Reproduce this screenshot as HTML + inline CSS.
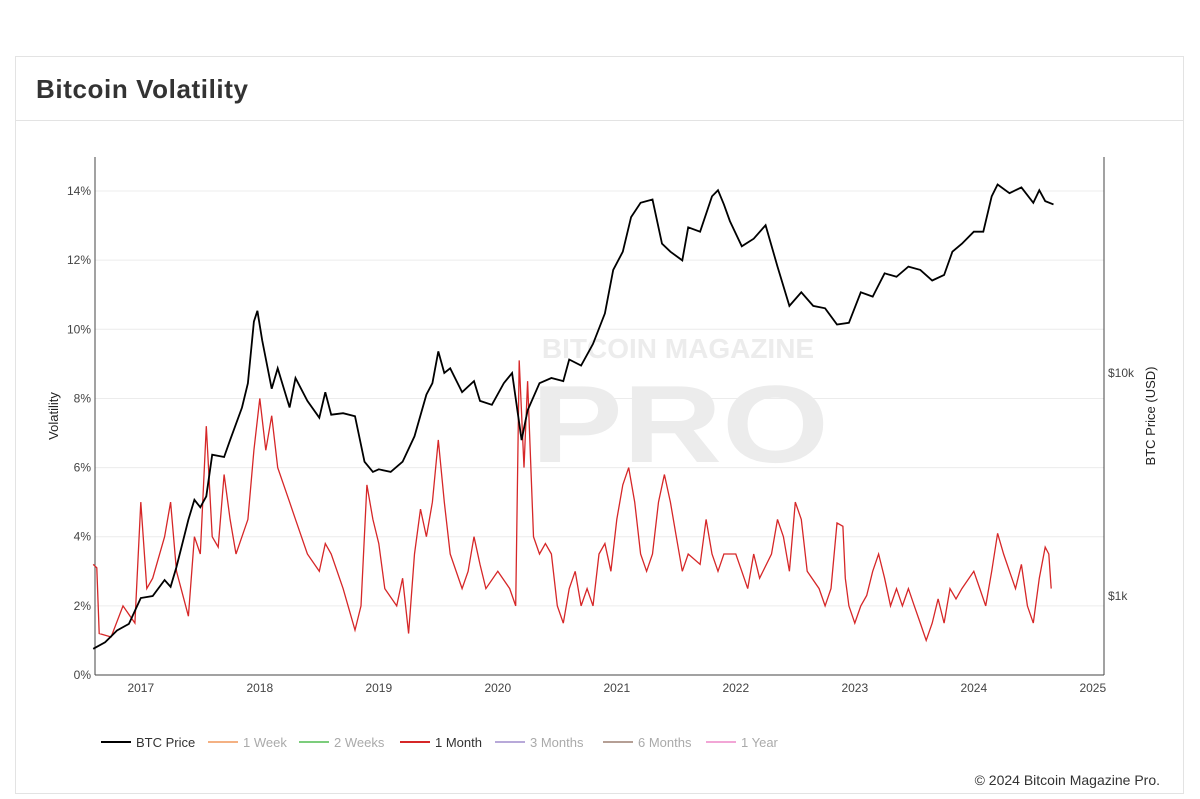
<!DOCTYPE html>
<html><head><meta charset="utf-8"><style>
body{margin:0;background:#fff;width:1200px;height:799px;overflow:hidden;font-family:"Liberation Sans",sans-serif;}
.card{position:absolute;left:15px;top:56px;width:1169px;height:738px;border:1px solid #e3e3e3;box-sizing:border-box;}
.title{position:absolute;left:36px;top:74px;font-size:26px;font-weight:bold;color:#333;letter-spacing:0.6px;}
.sep{position:absolute;left:16px;top:120px;width:1168px;height:1px;background:#e3e3e3;}
</style></head><body>
<div class="card"></div>
<div class="title">Bitcoin Volatility</div>
<div class="sep"></div>
<svg id="chart" width="1200" height="799" style="position:absolute;left:0;top:0"></svg>
<script>
const volT=[2016.6,2016.63,2016.65,2016.75,2016.85,2016.95,2017.0,2017.05,2017.1,2017.2,2017.25,2017.3,2017.4,2017.45,2017.5,2017.55,2017.6,2017.65,2017.7,2017.75,2017.8,2017.9,2017.95,2018.0,2018.05,2018.1,2018.15,2018.25,2018.3,2018.4,2018.5,2018.55,2018.6,2018.7,2018.8,2018.85,2018.9,2018.95,2019.0,2019.05,2019.15,2019.2,2019.25,2019.3,2019.35,2019.4,2019.45,2019.5,2019.55,2019.6,2019.7,2019.75,2019.8,2019.85,2019.9,2020.0,2020.1,2020.15,2020.18,2020.22,2020.25,2020.3,2020.35,2020.4,2020.45,2020.5,2020.55,2020.6,2020.65,2020.7,2020.75,2020.8,2020.85,2020.9,2020.95,2021.0,2021.05,2021.1,2021.15,2021.2,2021.25,2021.3,2021.35,2021.4,2021.45,2021.5,2021.55,2021.6,2021.7,2021.75,2021.8,2021.85,2021.9,2022.0,2022.05,2022.1,2022.15,2022.2,2022.3,2022.35,2022.4,2022.45,2022.5,2022.55,2022.6,2022.7,2022.75,2022.8,2022.85,2022.9,2022.92,2022.95,2023.0,2023.05,2023.1,2023.15,2023.2,2023.25,2023.3,2023.35,2023.4,2023.45,2023.5,2023.55,2023.6,2023.65,2023.7,2023.75,2023.8,2023.85,2023.9,2024.0,2024.05,2024.1,2024.15,2024.2,2024.25,2024.3,2024.35,2024.4,2024.45,2024.5,2024.55,2024.6,2024.63,2024.65];
const volV=[3.2,3.1,1.2,1.1,2.0,1.5,5.0,2.5,2.8,4.0,5.0,3.0,1.7,4.0,3.5,7.2,4.0,3.7,5.8,4.5,3.5,4.5,6.5,8.0,6.5,7.5,6.0,5.0,4.5,3.5,3.0,3.8,3.5,2.5,1.3,2.0,5.5,4.5,3.8,2.5,2.0,2.8,1.2,3.5,4.8,4.0,5.0,6.8,5.0,3.5,2.5,3.0,4.0,3.2,2.5,3.0,2.5,2.0,9.1,6.0,8.5,4.0,3.5,3.8,3.5,2.0,1.5,2.5,3.0,2.0,2.5,2.0,3.5,3.8,3.0,4.5,5.5,6.0,5.0,3.5,3.0,3.5,5.0,5.8,5.0,4.0,3.0,3.5,3.2,4.5,3.5,3.0,3.5,3.5,3.0,2.5,3.5,2.8,3.5,4.5,4.0,3.0,5.0,4.5,3.0,2.5,2.0,2.5,4.4,4.3,2.8,2.0,1.5,2.0,2.3,3.0,3.5,2.8,2.0,2.5,2.0,2.5,2.0,1.5,1.0,1.5,2.2,1.5,2.5,2.2,2.5,3.0,2.5,2.0,3.0,4.1,3.5,3.0,2.5,3.2,2.0,1.5,2.8,3.7,3.5,2.5];
const priceT=[2016.6,2016.7,2016.8,2016.9,2017.0,2017.1,2017.2,2017.25,2017.3,2017.4,2017.45,2017.5,2017.55,2017.6,2017.7,2017.75,2017.85,2017.9,2017.95,2017.98,2018.02,2018.1,2018.15,2018.25,2018.3,2018.4,2018.5,2018.55,2018.6,2018.7,2018.8,2018.88,2018.95,2019.0,2019.1,2019.2,2019.3,2019.4,2019.45,2019.5,2019.55,2019.6,2019.7,2019.8,2019.85,2019.95,2020.05,2020.12,2020.2,2020.25,2020.35,2020.45,2020.55,2020.6,2020.7,2020.8,2020.9,2020.97,2021.05,2021.12,2021.2,2021.3,2021.38,2021.45,2021.55,2021.6,2021.7,2021.8,2021.85,2021.9,2021.95,2022.05,2022.15,2022.25,2022.35,2022.45,2022.55,2022.65,2022.75,2022.85,2022.95,2023.05,2023.15,2023.25,2023.35,2023.45,2023.55,2023.65,2023.75,2023.82,2023.9,2024.0,2024.08,2024.15,2024.2,2024.3,2024.4,2024.5,2024.55,2024.6,2024.67];
const priceV=[580,620,700,750,980,1000,1180,1100,1350,2200,2700,2500,2800,4300,4200,5000,7000,9000,17000,19000,14000,8500,10500,7000,9500,7500,6300,8200,6500,6600,6400,4000,3600,3700,3600,4000,5200,8000,9000,12500,10000,10500,8200,9200,7500,7200,9000,10000,5000,6800,9000,9500,9200,11500,10800,13500,18500,29000,35000,50000,58000,60000,38000,35000,32000,45000,43000,62000,66000,57000,48000,37000,40000,46000,30000,20000,23000,20000,19500,16500,16800,23000,22000,28000,27000,30000,29000,26000,27500,35000,38000,43000,43000,62000,70000,64000,68000,58000,66000,59000,57000];
const volTicks=[0,2,4,6,8,10,12,14];
const yearTicks=[2017,2018,2019,2020,2021,2022,2023,2024,2025];
const priceTicks=[1000,10000];
const priceTickLabels=["$1k","$10k"];
const legendNames=["BTC Price","1 Week","2 Weeks","1 Month","3 Months","6 Months","1 Year"];
const legendColors=["#000","#f4b183","#7ccd7c","#d62728","#b8a9d9","#b59f95","#f2a6d6"];

const NS="http://www.w3.org/2000/svg",svg=document.getElementById('chart');
const X0=95,X1=1104,Y0=675,YT=157;
const x=t=>95+(t-2016.615)*119;
const yv=v=>675-v*34.57;
const yp=p=>596-223*Math.log10(p/1000);
function el(tag,a,txt){const e=document.createElementNS(NS,tag);for(const k in a)e.setAttribute(k,a[k]);if(txt!=null)e.textContent=txt;svg.appendChild(e);return e;}
let w=el('text',{x:678,y:358,'font-size':28,'font-weight':'bold','text-anchor':'middle',fill:'#ececec'},'BITCOIN MAGAZINE');

w=el('text',{x:0,y:0,'font-size':110,'font-weight':'bold','text-anchor':'middle',fill:'#ececec',transform:'translate(680,462) scale(1.25,1)'},'PRO');

volTicks.forEach(v=>{
 const g=el('line',{x1:X0,x2:X1,y1:yv(v),y2:yv(v),stroke:'#ececec'});
 
 const t=el('text',{x:91,y:yv(v)+4,'font-size':12,'text-anchor':'end',fill:'#444'},v+'%');
 
});
yearTicks.forEach(yr=>{
 const t=el('text',{x:x(yr),y:692,'font-size':12,'text-anchor':'middle',fill:'#444'},String(yr));
 
});
priceTicks.forEach((p,i)=>{
 const t=el('text',{x:1108,y:yp(p)+4,'font-size':12,fill:'#444'},priceTickLabels[i]);
 
});
[[X0,YT,X0,Y0],[X1,YT,X1,Y0],[X0,Y0,X1,Y0]].forEach(c=>{
 const l=el('line',{x1:c[0],y1:c[1],x2:c[2],y2:c[3],stroke:'#444','stroke-width':1});
 
});
let at=el('text',{x:0,y:0,'font-size':13,fill:'#222','text-anchor':'middle',transform:'translate(58,416) rotate(-90)'},'Volatility');

at=el('text',{x:0,y:0,'font-size':13,fill:'#222','text-anchor':'middle',transform:'translate(1155,416) rotate(-90)'},'BTC Price (USD)');

const vp=el('path',{d:volT.map((t,i)=>(i?'L':'M')+x(t).toFixed(1)+','+yv(volV[i]).toFixed(1)).join(''),fill:'none',stroke:'#d62728','stroke-width':1.3});

const pp=el('path',{d:priceT.map((t,i)=>(i?'L':'M')+x(t).toFixed(1)+','+yp(priceV[i]).toFixed(1)).join(''),fill:'none',stroke:'#000','stroke-width':1.8});

const lx=[101,208,299,400,495,603,706];
legendNames.forEach((n,i)=>{
 const l=el('line',{x1:lx[i],x2:lx[i]+30,y1:742,y2:742,stroke:legendColors[i],'stroke-width':2});
 
 const t=el('text',{x:lx[i]+35,y:747,'font-size':13,fill:(i==0||i==3)?'#333':'#aaa'},n);
 
});
const c=el('text',{x:1160,y:785,'font-size':14,'text-anchor':'end',fill:'#333'},'© 2024 Bitcoin Magazine Pro.');

</script>
</body></html>
